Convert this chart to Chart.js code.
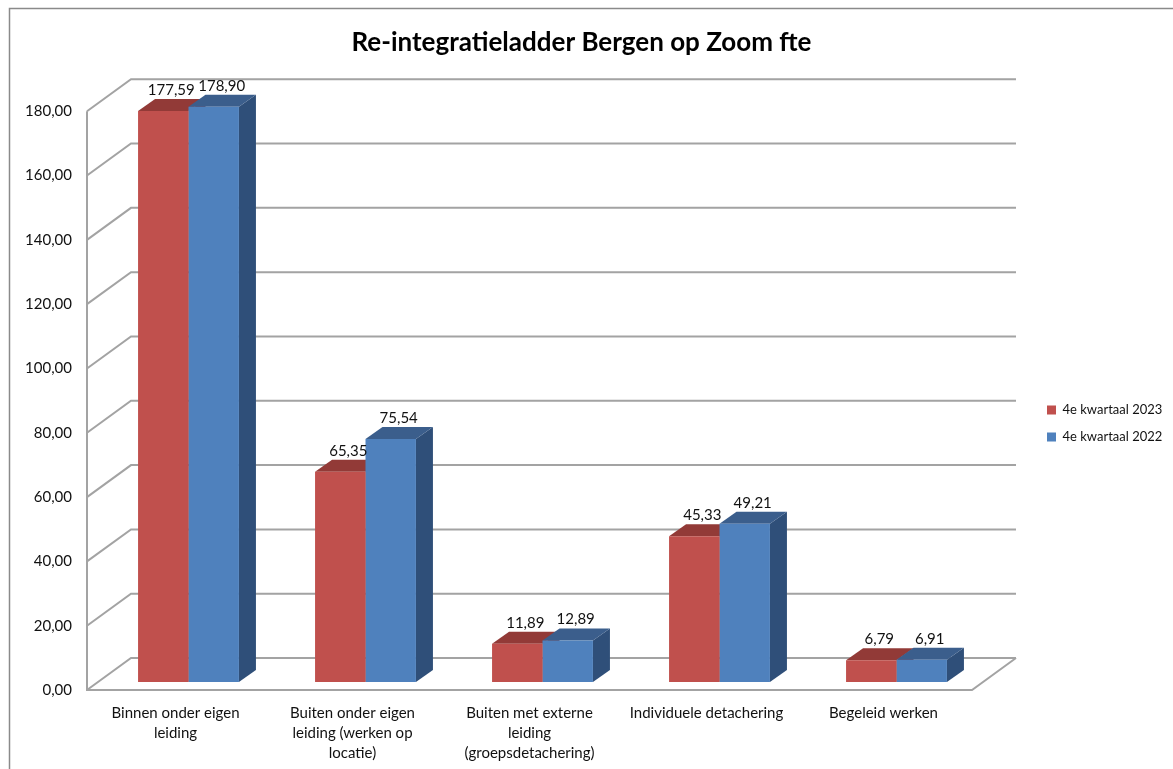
<!DOCTYPE html>
<html>
<head>
<meta charset="utf-8">
<script src="https://cdn.jsdelivr.net/npm/chart.js@4"></script>
<style>
  html, body { margin: 0; padding: 0; background: #fff; }
  canvas { display: block; }
</style>
</head>
<body>
<canvas id="c" width="1173" height="769"></canvas>
<script>
// ---- data ----
const categories = [
  ["Binnen onder eigen", "leiding"],
  ["Buiten onder eigen", "leiding (werken op", "locatie)"],
  ["Buiten met externe", "leiding", "(groepsdetachering)"],
  ["Individuele detachering"],
  ["Begeleid werken"]
];
const seriesNames = ["4e kwartaal 2023", "4e kwartaal 2022"];
const values2023 = [177.59, 65.35, 11.89, 45.33, 6.79];
const values2022 = [178.90, 75.54, 12.89, 49.21, 6.91];
const yMin = 0, yMax = 180, yStep = 20;
const titleText = "Re-integratieladder Bergen op Zoom fte";

// ---- style ----
const FONT = "Lato";
const frontColors = ["#c0504d", "#4f81bd"];
const topColors = ["#923a37", "#3b5e8c"];
const sideColors = ["#7d2f2d", "#2f4f79"];
const WALL_DX = 44, WALL_DY = 32;   // depth of the 3D box
const BAR_OX = 13, BAR_OY = -8;     // bars sit a little behind the front plane
const BAR_DX = 17, BAR_DY = 12;     // bar depth
const fmt = v => v.toFixed(2).replace('.', ',');

const threeD = {
  id: 'threeD',
  beforeDraw(chart) {
    const ctx = chart.ctx;
    ctx.save();
    ctx.fillStyle = '#fff';
    ctx.fillRect(0, 0, chart.width, chart.height);
    ctx.strokeStyle = '#8a8a8a';
    ctx.lineWidth = 1.5;
    ctx.strokeRect(9.5, 8.5, chart.width + 20, chart.height + 20);
    ctx.restore();
  },
  afterLayout(chart) {
    const lg = chart.legend;
    if (lg) {
      const w = lg.width;
      lg.left = 1033; lg.right = 1033 + w;
      lg.top = 389.5; lg.bottom = 389.5 + 120;
    }
  },
  beforeDatasetsDraw(chart) {
    const ctx = chart.ctx, a = chart.chartArea, ys = chart.scales.y;
    ctx.save();
    ctx.strokeStyle = '#a3a3a3';
    ctx.lineWidth = 2;
    ys.ticks.forEach(t => {
      const py = ys.getPixelForValue(t.value);
      ctx.beginPath();
      ctx.moveTo(a.left, py);
      ctx.lineTo(a.left + WALL_DX, py - WALL_DY);
      ctx.lineTo(a.right + WALL_DX, py - WALL_DY);
      ctx.stroke();
    });
    ctx.beginPath();
    ctx.moveTo(a.left, ys.getPixelForValue(yMax));
    ctx.lineTo(a.left, a.bottom);
    ctx.lineTo(a.right, a.bottom);
    ctx.lineTo(a.right + WALL_DX, a.bottom - WALL_DY);
    ctx.stroke();
    ctx.restore();

    // bar top and side faces, then leave the translation on for the fronts
    ctx.save();
    ctx.translate(BAR_OX, BAR_OY);
    chart.data.datasets.forEach((ds, di) => {
      const meta = chart.getDatasetMeta(di);
      meta.data.forEach(bar => {
        const p = bar.getProps(['x', 'y', 'base', 'width'], true);
        const l = p.x - p.width / 2, r = p.x + p.width / 2, t = p.y, b = p.base;
        ctx.fillStyle = sideColors[di];
        ctx.beginPath();
        ctx.moveTo(r, t); ctx.lineTo(r + BAR_DX, t - BAR_DY);
        ctx.lineTo(r + BAR_DX, b - BAR_DY); ctx.lineTo(r, b);
        ctx.closePath(); ctx.fill();
        ctx.fillStyle = topColors[di];
        ctx.beginPath();
        ctx.moveTo(l, t); ctx.lineTo(r, t);
        ctx.lineTo(r + BAR_DX, t - BAR_DY); ctx.lineTo(l + BAR_DX, t - BAR_DY);
        ctx.closePath(); ctx.fill();
      });
    });
  },
  afterDatasetsDraw(chart) {
    const ctx = chart.ctx;
    ctx.restore();
    ctx.save();
    ctx.font = "15px " + FONT;
    ctx.fillStyle = '#111';
    ctx.textAlign = 'center';
    ctx.textBaseline = 'middle';
    chart.data.datasets.forEach((ds, di) => {
      const meta = chart.getDatasetMeta(di);
      meta.data.forEach((bar, i) => {
        const p = bar.getProps(['x', 'y'], true);
        ctx.fillText(fmt(ds.data[i]), p.x + BAR_OX + 8, p.y + BAR_OY - BAR_DY - 9);
      });
    });
    ctx.restore();
  }
};

new Chart(document.getElementById('c'), {
  type: 'bar',
  data: {
    labels: categories,
    datasets: [
      { label: seriesNames[0], data: values2023, backgroundColor: frontColors[0], borderWidth: 0, clip: false },
      { label: seriesNames[1], data: values2022, backgroundColor: frontColors[1], borderWidth: 0, clip: false }
    ]
  },
  options: {
    responsive: false,
    animation: false,
    devicePixelRatio: 1,
    layout: { padding: { left: 0, right: 10, top: 0, bottom: 0 } },
    datasets: { bar: { barPercentage: 1, categoryPercentage: 0.57 } },
    plugins: {
      title: {
        display: true, text: titleText, color: '#000',
        font: { family: FONT, size: 26, weight: 'bold' },
        padding: { top: 27, bottom: 53 }
      },
      legend: {
        display: true, position: 'right', align: 'start',
        labels: { boxWidth: 9, boxHeight: 9, padding: 14, color: '#111', font: { family: FONT, size: 13 } }
      },
      tooltip: { enabled: false }
    },
    scales: {
      x: {
        grid: { display: false, drawTicks: false },
        border: { display: false },
        ticks: { color: '#111', font: { family: FONT, size: 15, lineHeight: 1.33 }, padding: 13, maxRotation: 0, autoSkip: false },
        afterFit(s) { s.height = 79; }
      },
      y: {
        min: yMin, max: yMax,
        grid: { display: false, drawTicks: false },
        border: { display: false },
        ticks: { stepSize: yStep, color: '#111', font: { family: FONT, size: 15 }, padding: 15, callback: v => fmt(v) },
        afterFit(s) { s.width = 87; }
      },
      spacer: {
        type: 'linear', position: 'right', display: true,
        grid: { display: false, drawTicks: false },
        border: { display: false },
        ticks: { display: false },
        afterFit(s) {
          const lw = s.chart.legend ? s.chart.legend.width : 130;
          s.width = Math.max(0, 1173 - 10 - lw - 972);
        }
      }
    }
  },
  plugins: [threeD]
});
</script>
</body>
</html>
